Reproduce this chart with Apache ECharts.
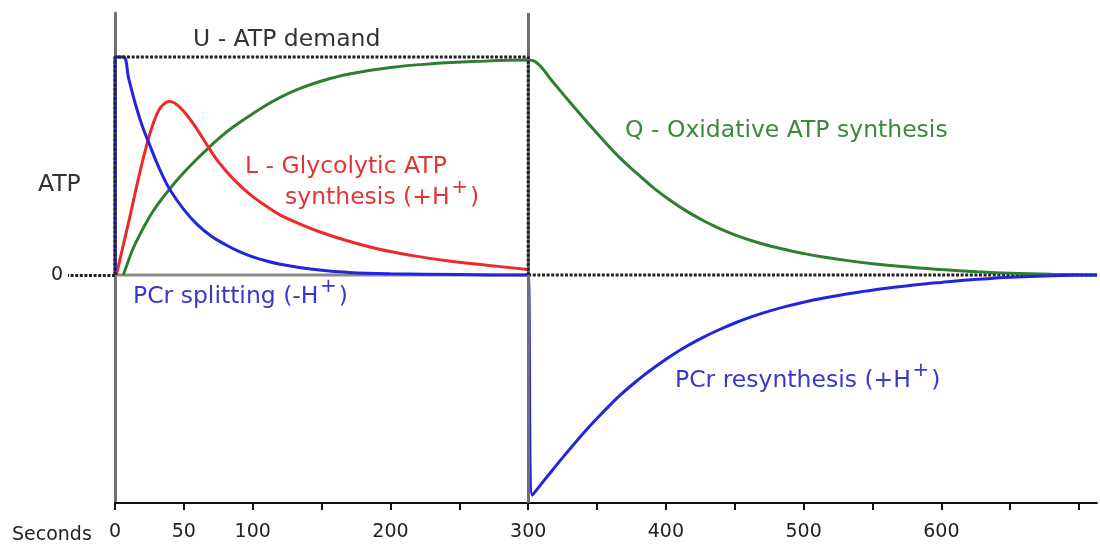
<!DOCTYPE html>
<html><head><meta charset="utf-8">
<script src="https://cdn.jsdelivr.net/npm/echarts@6/dist/echarts.min.js"></script>
<style>html,body{margin:0;padding:0;background:#fff}#c{width:1100px;height:546px}</style>
</head><body><div id="c"></div>
<script>
// ---- data (seconds, relative ATP rate) ----
const xTickLabels = [0, 50, 100, 200, 300, 400, 500, 600];
const xMax = 713;

const demandT = [0, 0, 300, 300];
const demandV = [0, 1, 1, 0];

const baseSolidT = [0, 300];
const baseSolidV = [0, 0];
const baseDotT = [300, 713];
const baseDotV = [0, 0];

const pcrT = [0,0,6,10,15,20,25,30,35,40,50,60,70,80,90,100,110,120,135,150,170,200,250,299,300,303,310,318,330,343,355,367,380,391,403,415,427,439,451,463,475,488,500,512,530,545,560,580,600,626,650,680,713];
const pcrV = [0,1,1,0.9,0.78,0.68,0.60,0.52,0.45,0.39,0.30,0.23,0.178,0.14,0.108,0.083,0.064,0.049,0.033,0.022,0.012,0.006,0.002,0,0,-1.01,-0.955,-0.892,-0.80,-0.705,-0.625,-0.55,-0.48,-0.427,-0.374,-0.327,-0.286,-0.25,-0.218,-0.19,-0.166,-0.143,-0.125,-0.109,-0.088,-0.074,-0.061,-0.046,-0.034,-0.02,-0.01,-0.003,0];

const glyT = [1,5,10,13,18,24,28,32,36,39,43,49,55,60,67.5,75,86,98,110,120,134,150,168,192,215,241,270,300];
const glyV = [0,0.11,0.245,0.33,0.47,0.62,0.70,0.758,0.787,0.796,0.79,0.757,0.71,0.665,0.59,0.52,0.44,0.37,0.315,0.275,0.235,0.195,0.158,0.118,0.09,0.065,0.045,0.025];

const oxT = [6,10,13,18,24,30,41,50,60,67.5,75,86,100,110,120,134,150,170,200,230,260,300,305,318,330,343,355,367,380,391,403,415,427,439,451,463,475,488,500,512,532,550,580,600,626,650,680,713];
const oxV = [0,0.07,0.12,0.185,0.255,0.315,0.405,0.47,0.535,0.58,0.625,0.68,0.74,0.78,0.815,0.855,0.89,0.922,0.952,0.969,0.979,0.986,0.98,0.885,0.795,0.70,0.615,0.535,0.46,0.40,0.343,0.293,0.25,0.213,0.182,0.156,0.134,0.115,0.099,0.085,0.066,0.052,0.034,0.025,0.015,0.008,0.003,0];

const zip = (t, v) => t.map((x, i) => [x, v[i]]);

const FONT = 'DejaVu Sans';
const BLUE = '#2424e0', RED = '#ec2a2a', GREEN = '#2e7f30';
const DOT = [3, 1.6];
const LBL = 23.5, SUP = 20;

const chart = echarts.init(document.getElementById('c'), null, {renderer: 'canvas'});

function label(x, y, text, col, size) {
  return {
    type: 'text', x: x, y: y, z: 100,
    style: {
      text: text, fill: col, font: size + 'px "' + FONT + '"',
      textAlign: 'left', textVerticalAlign: 'middle', align: 'left', verticalAlign: 'middle'
    }
  };
}
const mctx = document.createElement('canvas').getContext('2d');
function textW(s, size) { mctx.font = size + 'px "' + FONT + '"'; return mctx.measureText(s).width; }
function supLabel(x, y, pre, post, col) {
  const w1 = textW(pre, LBL);
  const w2 = textW('+', SUP);
  return [
    label(x, y, pre, col, LBL),
    label(x + w1 + 1.5, y - 10, '+', col, SUP),
    label(x + w1 + w2 + 3.5, y, post, col, LBL)
  ];
}

const option = {
  animation: false,
  backgroundColor: '#fff',
  grid: {left: 115, right: 3, top: 13, bottom: 43, containLabel: false},
  xAxis: {
    type: 'value', min: 0, max: xMax, interval: 50,
    axisLine: {show: true, onZero: false, lineStyle: {color: '#111', width: 2}},
    axisTick: {show: true, length: 7, lineStyle: {color: '#111', width: 2}},
    axisLabel: {
      fontFamily: FONT, fontSize: 19, color: '#222', margin: 20,
      showMaxLabel: false,
      formatter: v => xTickLabels.indexOf(v) >= 0 ? String(v) : ''
    },
    splitLine: {show: false}
  },
  yAxis: {
    type: 'value', min: -1.046, max: 1.202,
    axisLine: {show: true, lineStyle: {color: '#707070', width: 3}},
    axisTick: {show: true, customValues: [0], length: 47, lineStyle: {color: '#222', width: 3, type: DOT}},
    axisLabel: {show: true, customValues: [0], fontFamily: FONT, fontSize: 19, color: '#222', margin: 52},
    splitLine: {show: false}
  },
  series: [
    {
      name: 'baseline', type: 'line', data: zip(baseSolidT, baseSolidV), z: 1,
      showSymbol: false, lineStyle: {color: '#8a8a8a', width: 3},
      markLine: {
        silent: true, symbol: 'none', label: {show: false},
        lineStyle: {color: '#707070', width: 3, type: 'solid'},
        data: [{xAxis: 300}]
      }
    },
    {
      name: 'baseline after', type: 'line', data: zip(baseDotT, baseDotV), z: 1,
      showSymbol: false, lineStyle: {color: '#222', width: 3, type: DOT}
    },
    {
      name: 'Q - Oxidative ATP synthesis', type: 'line', data: zip(oxT, oxV), z: 2,
      showSymbol: false, smooth: 0.4,
      lineStyle: {color: GREEN, width: 3}
    },
    {
      name: 'L - Glycolytic ATP synthesis', type: 'line', data: zip(glyT, glyV), z: 3,
      showSymbol: false, smooth: 0.4,
      lineStyle: {color: RED, width: 3}
    },
    {
      name: 'PCr', type: 'line', data: zip(pcrT, pcrV), z: 4,
      showSymbol: false, smooth: 0.4,
      lineStyle: {color: BLUE, width: 3}
    },
    {
      name: 'U - ATP demand', type: 'line', data: zip(demandT, demandV), z: 5,
      showSymbol: false, lineStyle: {color: '#222', width: 3, type: DOT}
    }
  ],
  graphic: [].concat(
    [label(12, 535, 'Seconds', '#222', 19),
     label(193, 40, 'U - ATP demand', '#333', LBL),
     label(38, 185, 'ATP', '#333', LBL),
     label(245, 167, 'L - Glycolytic ATP', '#e23636', LBL),
     label(625, 131, 'Q - Oxidative ATP synthesis', '#3a8a3a', LBL)],
    supLabel(285, 198, 'synthesis (+H', ')', '#e23636'),
    supLabel(133, 297, 'PCr splitting (-H', ')', '#3838cc'),
    supLabel(675, 381, 'PCr resynthesis (+H', ')', '#3838cc')
  )
};
chart.setOption(option);
</script></body></html>
